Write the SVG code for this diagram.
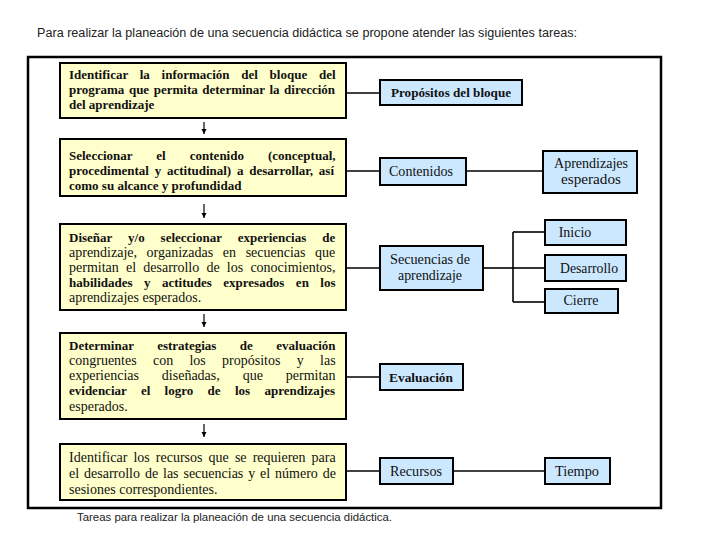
<svg xmlns="http://www.w3.org/2000/svg" width="720" height="540" viewBox="0 0 720 540">
<style>
.frame{fill:none;stroke:#000;stroke-width:2.5}
.task{fill:#FFFFCC;stroke:#000;stroke-width:2}
.item{fill:#CCE8FF;stroke:#000;stroke-width:2}
.t{font-family:"Liberation Serif","Times New Roman",serif;font-size:14px;fill:#111}
.b{font-weight:bold;font-size:13px}
.c{text-anchor:middle}
.conn line{stroke:#000;stroke-width:1.6;fill:none}
.conn line.arr{stroke-width:1.2}
.sans{font-family:"Liberation Sans",Arial,sans-serif;fill:#222}
</style>
<defs>
<marker id="ah" markerWidth="8" markerHeight="8" refX="5" refY="3" orient="auto" markerUnits="userSpaceOnUse">
<path d="M0,0.5 L5,3 L0,5.5 Z" fill="#000"/>
</marker>
</defs>
<rect width="720" height="540" fill="#fff"/>
<text class="sans" x="37" y="37" font-size="12.5" textLength="540" lengthAdjust="spacingAndGlyphs">Para realizar la planeación de una secuencia didáctica se propone atender las siguientes tareas:</text>
<rect class="frame" x="28" y="57" width="633" height="451"/>
<g class="conn" id="connectors">
<line x1="346" y1="93" x2="380" y2="93"/>
<line x1="346" y1="171" x2="380" y2="171"/>
<line x1="466" y1="171" x2="543" y2="171"/>
<line x1="346" y1="268" x2="380" y2="268"/>
<line x1="483" y1="268" x2="513" y2="268"/>
<line x1="513" y1="232" x2="513" y2="302"/>
<line x1="513" y1="232" x2="545" y2="232"/>
<line x1="513" y1="268" x2="545" y2="268"/>
<line x1="513" y1="302" x2="545" y2="302"/>
<line x1="346" y1="377" x2="380" y2="377"/>
<line x1="346" y1="471" x2="380" y2="471"/>
<line x1="453" y1="471" x2="545" y2="471"/>
<line class="arr" x1="204" y1="122" x2="204" y2="134" marker-end="url(#ah)"/>
<line class="arr" x1="204" y1="204" x2="204" y2="218" marker-end="url(#ah)"/>
<line class="arr" x1="204" y1="314" x2="204" y2="327" marker-end="url(#ah)"/>
<line class="arr" x1="204" y1="424" x2="204" y2="437" marker-end="url(#ah)"/>
</g>
<g id="task1">
<rect class="task" x="60" y="63" width="286" height="55"/>
<text class="t b" x="69" y="79" word-spacing="8.5">Identificar la información del bloque del</text>
<text class="t b" x="69" y="94" word-spacing="1.3">programa que permita determinar la dirección</text>
<text class="t b" x="69" y="109">del aprendizaje</text>
</g>
<g id="task2">
<rect class="task" x="60" y="139" width="286" height="57"/>
<text class="t b" x="69" y="160" word-spacing="20.8">Seleccionar el contenido (conceptual,</text>
<text class="t b" x="69" y="175" word-spacing="2.5">procedimental y actitudinal) a desarrollar, así</text>
<text class="t b" x="69" y="190">como su alcance y profundidad</text>
</g>
<g id="task3">
<rect class="task" x="60" y="224" width="286" height="86"/>
<text class="t b" x="69" y="242" word-spacing="12.7">Diseñar y/o seleccionar experiencias de</text>
<text class="t" x="69" y="257" word-spacing="6.1">aprendizaje, organizadas en secuencias que</text>
<text class="t" x="69" y="272" word-spacing="3.7">permitan el desarrollo de los conocimientos,</text>
<text class="t b" x="69" y="287" word-spacing="8.2">habilidades y actitudes expresados en los</text>
<text class="t" x="69" y="302">aprendizajes esperados.</text>
</g>
<g id="task4">
<rect class="task" x="60" y="333" width="286" height="86"/>
<text class="t b" x="69" y="350" word-spacing="20.2">Determinar estrategias de evaluación</text>
<text class="t" x="69" y="365" word-spacing="12.8">congruentes con los propósitos y las</text>
<text class="t" x="69" y="380" word-spacing="19.4">experiencias diseñadas, que permitan</text>
<text class="t b" x="69" y="395" word-spacing="11.1">evidenciar el logro de los aprendizajes</text>
<text class="t" x="69" y="411">esperados.</text>
</g>
<g id="task5">
<rect class="task" x="60" y="444" width="286" height="56"/>
<text class="t" x="69" y="462" word-spacing="2.6">Identificar los recursos que se requieren para</text>
<text class="t" x="69" y="478" word-spacing="1.4">el desarrollo de las secuencias y el número de</text>
<text class="t" x="69" y="494">sesiones correspondientes.</text>
</g>
<g id="propositos">
<rect class="item" x="380" y="80" width="142" height="25"/>
<text class="t b c" x="451" y="97" textLength="120" lengthAdjust="spacingAndGlyphs">Propósitos del bloque</text>
</g>
<g id="contenidos">
<rect class="item" x="380" y="158" width="86" height="27"/>
<text class="t c" x="421" y="176" textLength="64" lengthAdjust="spacingAndGlyphs">Contenidos</text>
</g>
<g id="aprendizajes">
<rect class="item" x="543" y="151" width="94" height="42"/>
<text class="t c" x="591" y="168" textLength="74" lengthAdjust="spacingAndGlyphs">Aprendizajes</text>
<text class="t c" x="591" y="184" textLength="60" lengthAdjust="spacingAndGlyphs">esperados</text>
</g>
<g id="secuencias">
<rect class="item" x="380" y="246" width="103" height="44"/>
<text class="t c" x="430" y="264" textLength="80" lengthAdjust="spacingAndGlyphs">Secuencias de</text>
<text class="t c" x="430" y="280" textLength="64" lengthAdjust="spacingAndGlyphs">aprendizaje</text>
</g>
<g id="inicio">
<rect class="item" x="545" y="220" width="81" height="25"/>
<text class="t c" x="575" y="237">Inicio</text>
</g>
<g id="desarrollo">
<rect class="item" x="545" y="255" width="81" height="26"/>
<text class="t c" x="589" y="273" textLength="58" lengthAdjust="spacingAndGlyphs">Desarrollo</text>
</g>
<g id="cierre">
<rect class="item" x="545" y="289" width="73" height="24"/>
<text class="t c" x="581" y="305">Cierre</text>
</g>
<g id="evaluacion">
<rect class="item" x="380" y="364" width="83" height="26"/>
<text class="t b c" x="421" y="382" textLength="64" lengthAdjust="spacingAndGlyphs">Evaluación</text>
</g>
<g id="recursos">
<rect class="item" x="380" y="458" width="73" height="26"/>
<text class="t c" x="416" y="476" textLength="52" lengthAdjust="spacingAndGlyphs">Recursos</text>
</g>
<g id="tiempo">
<rect class="item" x="545" y="458" width="65" height="26"/>
<text class="t c" x="577" y="476" textLength="44" lengthAdjust="spacingAndGlyphs">Tiempo</text>
</g>
<text class="sans" x="77" y="521" font-size="11" textLength="315" lengthAdjust="spacingAndGlyphs">Tareas para realizar la planeación de una secuencia didáctica.</text>
</svg>
